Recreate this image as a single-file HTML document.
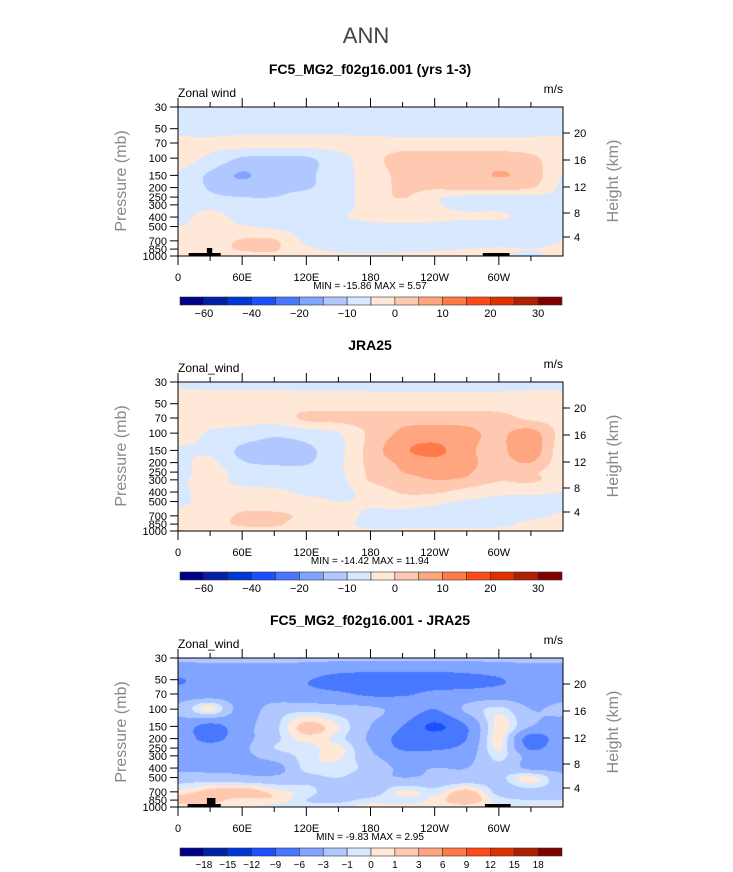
<!DOCTYPE html>
<html><head><meta charset="utf-8"><style>
html,body{margin:0;padding:0;background:#fff;width:733px;height:872px;overflow:hidden}
#wrap{position:relative;width:733px;height:872px;font-family:"Liberation Sans",sans-serif}
canvas{position:absolute}
svg{position:absolute;left:0;top:0}
</style></head><body>
<div id="wrap">
<svg id="svg" width="733" height="872">
<text x="366" y="43" text-anchor="middle" font-size="22" fill="#444">ANN</text>
<text x="370" y="74" text-anchor="middle" font-size="14" font-weight="bold" fill="#000">FC5_MG2_f02g16.001 (yrs 1-3)</text>
<text x="370" y="350" text-anchor="middle" font-size="14" font-weight="bold" fill="#000">JRA25</text>
<text x="370" y="625" text-anchor="middle" font-size="14" font-weight="bold" fill="#000">FC5_MG2_f02g16.001 - JRA25</text>
</svg>
</div>
<script>
const LONS=[0,30,60,90,120,150,180,210,240,270,300,330,360];
const LEVS=[30,50,70,100,150,200,250,300,400,500,700,850,1000];
const PTICKS=[30,50,70,100,150,200,250,300,400,500,700,850,1000];
const HTICKS=[20,16,12,8,4];
const HOFF=[26,53,80,106,130];
const XTICKS=[0,60,120,180,240,300];
const XLABELS=["0","60E","120E","180","120W","60W"];
const LEV1=[-60,-50,-40,-30,-20,-15,-10,-5,0,5,10,15,20,25,30];
const LEV3=[-18,-15,-12,-9,-6,-3,-1,0,1,3,6,9,12,15,18];
const LAB1=["-60","-40","-20","-10","0","10","20","30"];
const LAB1IDX=[0,2,4,6,8,10,12,14];
const LAB3=["-18","-15","-12","-9","-6","-3","-1","0","1","3","6","9","12","15","18"];
const COLORS=["#00008a","#0020a8","#0038d8","#1a50ff","#4878ff","#80a4ff","#b0c8ff","#d8e8ff","#ffe8d8","#ffc8b0","#ffa680","#ff7a48","#ff4a18","#e03000","#b02000","#800000"];
const U1=[
[-7,-7,-7,-7,-7,-7,-7,-7,-7,-7,-7,-7,-7],
[-7,-7,-7,-7,-7,-7,-7,-7,-7,-7,-7,-7,-7],
[-3,-4,-3,-3,-3,-3,-3,-3,-3,-3,-3,-3,-3],
[-3,-6,-10.5,-11,-10.5,-7,-2,2,2,2.5,2.5,1,-3],
[-5.5,-11,-15.5,-12,-11,-7,-3,1.5,2.5,3,5.2,3,-5],
[-6,-10.5,-12,-11,-10.5,-7,-3,1,0.8,1.5,1.5,0.5,-6],
[-6,-9,-10,-10,-8,-7,-3,0.3,-4,-6,-6,-6,-6],
[-6,-6,-7,-7,-7,-6.5,-3.5,-2,-4.5,-6,-6,-6,-6],
[-6,-4,-6,-7,-7,-5.5,-4,-4,-4,-4.5,-4.5,-6,-6],
[-5,-4,-4.5,-6,-7,-7,-6,-5.5,-6,-7,-7,-7,-5.5],
[-4,-3,0.5,0.5,-6,-7,-7,-7,-7,-7,-7,-7,-5],
[-3,-2,0.5,0.5,-4,-6,-6.5,-6,-5.5,-5,-4.5,-5,-4],
[-3,-2,-2,-1,-3,-4,-4,-4,-4,-1,-4,-6,-3]];
const U2=[
[-6,-6,-6,-6,-6,-6,-6,-6,-6,-6,-6,-6,-6],
[-2,-3,-3,-3,-3,-3,-3,-3,-3,-3,-3,-3,-3],
[-3,-3,-3,-3,1,1.5,2,3,3,3,2,-1,-2],
[-3,-5.5,-7,-9,-7.5,-5.2,1,6,7,6,4,7,-2],
[-5.5,-6,-11,-12,-11,-6.5,2,9,11.5,6,4,8,-3],
[-6,-4,-9.5,-11,-10.5,-6,1.5,6,8,6,3.5,5,-3],
[-6,-4,-6,-7,-8,-6,1,5,6,5.5,2,1,-3],
[-5.5,-4,-6,-7,-7,-6.5,0.5,3,5,4,0.5,1,-3],
[-5.5,-4,-4,-4,-6,-6.5,-3,0.5,0.8,-2,-4,-4,-5],
[-5.5,-4,-3,-3,-3,-5,-4,-2.5,-4,-5.5,-6,-6,-6],
[-4,-3.5,1,1,-1,-3,-6,-7,-7,-7,-7,-6,-4.5],
[-3,-2,0.8,1,-3,-4,-6,-7,-7,-6.5,-6,-4,-3],
[0.5,-2,-2,-2,-3,-4,-4.5,-4,-3.5,-4,-4,-4,-3]];
const U3=[
[-2.5,-2.5,-2.5,-2.5,-2.5,-2.5,-2.5,-2.5,-2.5,-2.5,-2.5,-2.5,-2.5],
[-6.2,-5,-5,-5,-5.8,-7,-7.5,-7.5,-7.5,-7,-6.2,-5,-5],
[-4.5,-4.5,-4.5,-4.5,-5,-5.5,-6.5,-6.3,-5.5,-5,-4.5,-4.5,-4],
[-2.5,0.5,-4,-2,-1.5,-2,-2.5,-4,-6,-2.5,-0.5,-3,-2.5],
[-4,-7,-4,-1.5,1.5,0,-3,-6,-9.5,-6,0.5,-3,-4],
[-4,-7,-4,-1.5,0.5,-0.5,-3.5,-7,-7.5,-6,0.5,-7.5,-4],
[-4,-4.5,-3.5,-1,-0.5,0.3,-3,-6.5,-6.5,-5,0.2,-6.5,-3.5],
[-3.5,-3.5,-3.5,-2,-0.5,0.2,-2.5,-4.5,-4.5,-4,-0.5,-4,-3.5],
[-3.5,-3.5,-3.2,-4,-0.5,-0.5,-1.5,-3.5,-3,-3,-1.5,-3.5,-3.5],
[-2,-2,-2.5,-2.5,-1.5,-1,-2,-3,-2.5,-2.5,-1.5,0.5,-2.5],
[0.3,1.5,2,0.5,-0.5,-2,-2,0.3,-0.5,1.5,-1.5,-1.5,-1.5],
[1.5,1.5,0.5,0.8,-1,-1.5,-0.5,-0.5,0.3,2,-0.5,-1,-1],
[0.5,0.5,0.5,-0.5,-0.5,-0.2,0.4,0.3,0.3,0.5,-0.5,0.3,0.3]];
const MINMAX=[["-15.86","5.57"],["-14.42","11.94"],["-9.83","2.95"]];
const LAND=[[[10,40,3],[27,32,8],[285,310,3]],[],[[9,40,3],[27,35,9],[287,311,3]]];

const PX=178,PW=385,PH=149,TOPS=[107,382,658];
const LP0=Math.log10(30),LPR=Math.log10(1000/30);
const svg=document.getElementById('svg');
const wrap=document.getElementById('wrap');
const NS='http://www.w3.org/2000/svg';
function xOf(lon){return PX+lon/360*PW;}
function yOf(p,top){return top+(Math.log10(p)-LP0)/LPR*PH;}
function mk(tag,attrs,parent){const e=document.createElementNS(NS,tag);for(const k in attrs)e.setAttribute(k,attrs[k]);(parent||svg).appendChild(e);return e;}
function cr(p0,p1,p2,p3,t){return 0.5*((2*p1)+(-p0+p2)*t+(2*p0-5*p1+4*p2-p3)*t*t+(-p0+3*p1-3*p2+p3)*t*t*t);}
function sample(g,r,c){
  const nr=g.length,nc=g[0].length;
  const i=Math.min(Math.floor(r),nr-2),j=Math.min(Math.floor(c),nc-2);
  const tr=r-i,tc=c-j;const vals=[];
  for(let a=-1;a<=2;a++){const ri=Math.max(0,Math.min(nr-1,i+a));const row=g[ri];
    const q=k=>row[Math.max(0,Math.min(nc-1,k))];
    vals.push(cr(q(j-1),q(j),q(j+1),q(j+2),tc));}
  return cr(vals[0],vals[1],vals[2],vals[3],tr);
}
function rowIdx(p){
  const lp=Math.log10(p);
  for(let k=0;k<LEVS.length-1;k++){const a=Math.log10(LEVS[k]),b=Math.log10(LEVS[k+1]);
    if(lp<=b)return k+(lp-a)/(b-a);}
  return LEVS.length-1;
}
function hex(c){return [parseInt(c.substr(1,2),16),parseInt(c.substr(3,2),16),parseInt(c.substr(5,2),16)];}
const RGB=COLORS.map(hex);
function drawPanel(pi,grid,levs){
  const top=TOPS[pi];
  const cv=document.createElement('canvas');
  cv.width=PW;cv.height=PH;cv.style.left=PX+'px';cv.style.top=top+'px';
  
  
  wrap.insertBefore(cv,svg);
  const ctx=cv.getContext('2d');const img=ctx.createImageData(PW,PH);
  for(let py=0;py<PH;py++){
    const p=Math.pow(10,LP0+(py+0.5)/PH*LPR);const r=rowIdx(p);
    for(let px=0;px<PW;px++){
      const c=(px+0.5)/PW*360/30;const v=sample(grid,r,c);
      let b=0;while(b<levs.length&&v>=levs[b])b++;
      const col=RGB[b];const o=(py*PW+px)*4;
      img.data[o]=col[0];img.data[o+1]=col[1];img.data[o+2]=col[2];img.data[o+3]=255;}
  }
  ctx.putImageData(img,0,0);
  const g=mk('g',{});
  
  
  // land
  LAND[pi].forEach(L=>{const r=mk('rect',{x:xOf(L[0]),y:top+PH-L[2],width:xOf(L[1])-xOf(L[0]),height:L[2],fill:'#000'},g);
    
    });
  mk('rect',{x:PX,y:top,width:PW,height:PH,fill:'none',stroke:'#000','stroke-width':1},g);
  // lon ticks
  for(let lon=0;lon<=330;lon+=30){const x=xOf(lon);const maj=lon%60===0;const L=maj?9:5;
    mk('line',{x1:x,y1:top+PH,x2:x,y2:top+PH+L,stroke:'#000'},g);
    mk('line',{x1:x,y1:top,x2:x,y2:top-L,stroke:'#000'},g);}
  XTICKS.forEach((lon,k)=>{const t=mk('text',{x:xOf(lon),y:top+174,'text-anchor':'middle','font-size':11},g);t.textContent=XLABELS[k];
    
    });
  PTICKS.forEach(p=>{const y=yOf(p,top);mk('line',{x1:PX-8,y1:y,x2:PX,y2:y,stroke:'#000'},g);
    const t=mk('text',{x:PX-11,y:y+4,'text-anchor':'end','font-size':11},g);t.textContent=p;
    
    });
  HTICKS.forEach((h,k)=>{const y=top+HOFF[k];mk('line',{x1:PX+PW,y1:y,x2:PX+PW+7,y2:y,stroke:'#000'},g);
    const t=mk('text',{x:PX+PW+11,y:y+4,'font-size':11},g);t.textContent=h;
    
    });
  const a=mk('text',{x:PX,y:top-10,'font-size':12},g);a.textContent=pi===0?'Zonal wind':'Zonal_wind';
  
  
  const u=mk('text',{x:PX+PW,y:top-14,'font-size':12,'text-anchor':'end'},g);u.textContent='m/s';
  
  
  const yl=mk('text',{x:0,y:0,'font-size':16,fill:'#888','text-anchor':'middle',transform:'translate(126,'+(top+74)+') rotate(-90)'},g);yl.textContent='Pressure (mb)';
  
  
  const yr=mk('text',{x:0,y:0,'font-size':16,fill:'#888','text-anchor':'middle',transform:'translate(618,'+(top+74)+') rotate(-90)'},g);yr.textContent='Height (km)';
  
  
  const mm=mk('text',{x:370,y:top+182,'font-size':10,'text-anchor':'middle','xml:space':'preserve'},g);
  mm.textContent='MIN = '+MINMAX[pi][0]+'   MAX =  '+MINMAX[pi][1];
  
  
  // colorbar
  const cb=mk('g',{},g);
  
  
  const bw=382/16,by=top+190;
  COLORS.forEach((c,k)=>{const r=mk('rect',{x:180+k*bw,y:by,width:bw,height:8,fill:c,stroke:'#333','stroke-width':0.6},cb);
    
    });
  if(pi<2){LAB1.forEach((s,k)=>{const t=mk('text',{x:180+(LAB1IDX[k]+1)*bw,y:by+20,'font-size':11,'text-anchor':'middle'},cb);t.textContent=s.replace('-','\u2212');
    
    });}
  else{LAB3.forEach((s,k)=>{const t=mk('text',{x:180+(k+1)*bw,y:by+20,'font-size':10,'text-anchor':'middle'},cb);t.textContent=s.replace('-','\u2212');
    
    });}
}
drawPanel(0,U1,LEV1);
drawPanel(1,U2,LEV1);
drawPanel(2,U3,LEV3);
</script>
</body></html>
